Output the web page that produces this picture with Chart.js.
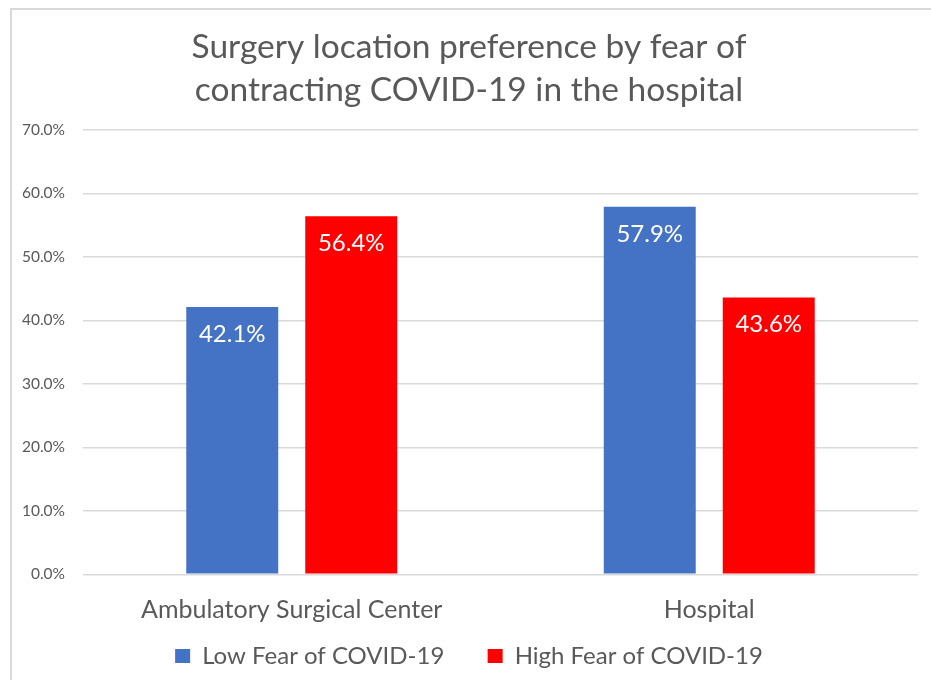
<!DOCTYPE html>
<html>
<head>
<meta charset="utf-8">
<script src="https://cdn.jsdelivr.net/npm/chart.js@4/dist/chart.umd.min.js"></script>
<style>
  body { margin: 0; background: #fff; }
  #wrap { position: relative; width: 931px; height: 680px; overflow: hidden; }
  #frame { position: absolute; left: 10px; top: 8px; width: 940px; height: 700px; border: 2px solid #d9d9d9; box-sizing: border-box; }
  #myChart { position: absolute; left: 0; top: 0; }
</style>
</head>
<body>
<div id="wrap">
  <div id="frame"></div>
  <canvas id="myChart" width="931" height="680"></canvas>
</div>
<script>
const categories = ["Ambulatory Surgical Center", "Hospital"];
const seriesNames = ["Low Fear of COVID-19", "High Fear of COVID-19"];
const lowFear = [42.1, 57.9];
const highFear = [56.4, 43.6];
const titleLines = ["Surgery location preference by fear of", "contracting COVID-19 in the hospital"];

const FONT = "Lato, 'Open Sans', sans-serif";
const GREY = "#595959";

//labels drawn inside the top of each bar
const barLabels = {
  id: "barLabels",
  afterDatasetsDraw(chart) {
    const ctx = chart.ctx;
    ctx.save();
    ctx.fillStyle = "#ffffff";
    ctx.font = "24px " + FONT;
    ctx.textAlign = "center";
    ctx.textBaseline = "middle";
    chart.data.datasets.forEach((ds, i) => {
      chart.getDatasetMeta(i).data.forEach((bar, j) => {
        ctx.fillText(ds.data[j].toFixed(1) + "%", bar.x, bar.y + 27);
      });
    });
    ctx.restore();
  },
};

const myChart = new Chart(document.getElementById("myChart"), {
  type: "bar",
  data: {
    labels: categories,
    datasets: [
      { label: seriesNames[0], data: lowFear, backgroundColor: "#4472c4" },
      { label: seriesNames[1], data: highFear, backgroundColor: "#ff0000" },
    ],
  },
  options: {
    responsive: false,
    animation: false,
    devicePixelRatio: 1,
    categoryPercentage: 0.57,
    barPercentage: 0.773,
    layout: { padding: { left: 20, right: 13, top: 0, bottom: 2 } },
    plugins: {
      tooltip: { enabled: false },
      title: {
        display: true,
        text: titleLines,
        color: GREY,
        font: { family: FONT, size: 33.5, weight: "normal", lineHeight: 1.284 },
        padding: { top: 25.5, bottom: 18.5 },
      },
      legend: {
        position: "bottom",
        labels: {
          color: GREY,
          font: { family: FONT, size: 24 },
          boxWidth: 15,
          boxHeight: 14,
          padding: 18.75,
          // wider gap between the two entries, like the original
          generateLabels: (chart) => {
            const items = Chart.defaults.plugins.legend.labels.generateLabels(chart);
            items[0].text = items[0].text + "\u00a0\u00a0\u00a0\u00a0";
            items.forEach((it) => { it.lineWidth = 0; });
            return items;
          },
        },
      },
    },
    scales: {
      x: {
        grid: { display: false, drawTicks: false },
        border: { display: false },
        ticks: { color: GREY, font: { family: FONT, size: 25 }, padding: 21, maxRotation: 0 },
        afterFit: (scale) => { scale.height = 51; },
      },
      y: {
        min: 0,
        max: 70,
        grid: { color: "#d9d9d9", lineWidth: 1.5, drawTicks: false },
        border: { display: false },
        ticks: {
          stepSize: 10,
          color: GREY,
          padding: 18,
          font: { family: FONT, size: 15.5 },
          callback: (v) => v.toFixed(1) + "%",
        },
        afterFit: (scale) => { scale.width = 63; },
      },
    },
  },
  plugins: [barLabels],
});
</script>
</body>
</html>
